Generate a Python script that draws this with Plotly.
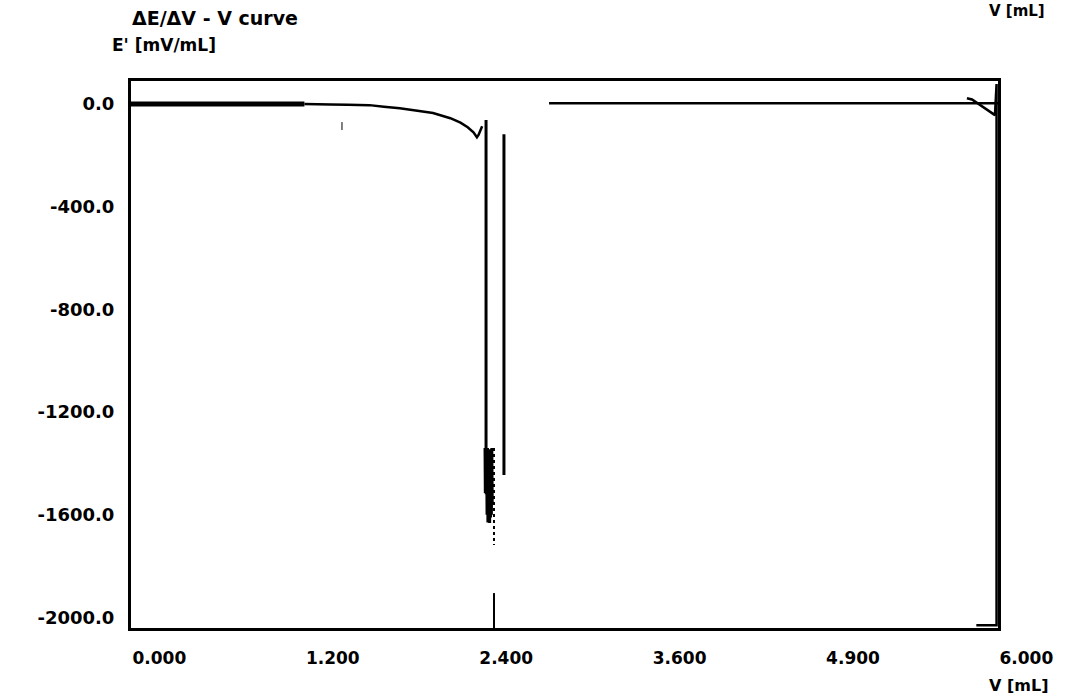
import plotly.graph_objects as go

# ---- data ----
flat_v = [0.0, 1.20]
flat_e = [0.0, 0.0]

curve_v = [1.20, 1.30, 1.38, 1.50, 1.65, 1.75, 1.86, 1.97, 2.09, 2.21, 2.28, 2.33, 2.37, 2.394, 2.405, 2.42, 2.43]
curve_e = [0, -2, -2, -3, -4, -10, -16, -25, -35, -55, -72, -90, -110, -129, -120, -100, -86]

spike1_v = [2.457, 2.457]
spike1_e = [-62, -1512]

cluster_v = [2.450, 2.452, 2.455, 2.458, 2.461, 2.464, 2.467, 2.470, 2.473, 2.476, 2.479, 2.482, 2.485, 2.488, 2.491, 2.494, 2.497, 2.500]
cluster_e = [-1340, -1515, -1345, -1520, -1350, -1600, -1340, -1630, -1345, -1625, -1350, -1632, -1345, -1610, -1350, -1600, -1340, -1560]

dotted_v = [2.512, 2.512]
dotted_e = [-1340, -1718]

spike2_v = [2.581, 2.581]
spike2_e = [-117, -1445]

bottom_tick_v = [2.512, 2.512]
bottom_tick_e = [-1905, -2045]

small_tick_v = [1.46, 1.46]
small_tick_e = [-70, -101]

after_v = [2.893, 6.05]
after_e = [3, 3]

end_v = [5.785, 5.82, 5.979, 5.99, 5.99, 5.85]
end_e = [23, 18, -43, 78, -2030, -2030]

x_ticks = [0.0, 1.2, 2.4, 3.6, 4.8, 6.0]
x_labels = ["0.000", "1.200", "2.400", "3.600", "4.900", "6.000"]
y_ticks = [0, -400, -800, -1200, -1600, -2000]
y_labels = ["0.0", "-400.0", "-800.0", "-1200.0", "-1600.0", "-2000.0"]

FONT = "DejaVu Sans"
BLACK = "#000000"

fig = go.Figure()

def line(x, y, w=2, dash="solid"):
    fig.add_trace(go.Scatter(x=x, y=y, mode="lines", showlegend=False, hoverinfo="skip",
                             line=dict(color=BLACK, width=w, dash=dash)))

line(flat_v, flat_e, w=5)
line(curve_v, curve_e, w=2.5)
line(small_tick_v, small_tick_e, w=1)
line(spike1_v, spike1_e, w=3)
line(cluster_v, cluster_e, w=3)
line(dotted_v, dotted_e, w=2, dash="dot")
line(spike2_v, spike2_e, w=3)
line(bottom_tick_v, bottom_tick_e, w=2)
line(after_v, after_e, w=2.5)
line(end_v, end_e, w=2.5)

fig.update_layout(
    width=1071, height=697,
    margin=dict(l=131, r=73, t=81, b=69),
    paper_bgcolor="white", plot_bgcolor="white",
    font=dict(family=FONT, color=BLACK, size=15),
    xaxis=dict(range=[0, 6], tickvals=x_ticks, ticktext=x_labels, showgrid=False, zeroline=False,
               showline=True, linecolor=BLACK, linewidth=3, mirror=True, ticks="",
               ticklabelposition="outside right", ticklabelstandoff=13,
               tickfont=dict(family=FONT, size=17, weight="bold")),
    yaxis=dict(range=[-2041, 90], tickvals=y_ticks, ticktext=y_labels, showgrid=False, zeroline=False,
               showline=True, linecolor=BLACK, linewidth=3, mirror=True, ticks="",
               ticklabelstandoff=10,
               tickfont=dict(family=FONT, size=18, weight="bold")),
    annotations=[
        dict(text="ΔE/ΔV - V curve", xref="paper", yref="paper", x=-0.001, y=1.115,
             xanchor="left", yanchor="middle", showarrow=False,
             font=dict(family=FONT, size=19, weight="bold")),
        dict(text="E' [mV/mL]", xref="paper", yref="paper", x=-0.024, y=1.066,
             xanchor="left", yanchor="middle", showarrow=False,
             font=dict(family=FONT, size=17, weight="bold")),
        dict(text="V [mL]", xref="paper", yref="paper", x=0.9875, y=1.0,
             xanchor="left", yanchor="top", yshift=81, showarrow=False,
             font=dict(family=FONT, size=15, weight="bold")),
        dict(text="V [mL]", xref="paper", yref="paper", x=0.9875, y=-0.106,
             xanchor="left", yanchor="middle", showarrow=False,
             font=dict(family=FONT, size=16, weight="bold")),
    ],
)

fig.write_html("out.html")
